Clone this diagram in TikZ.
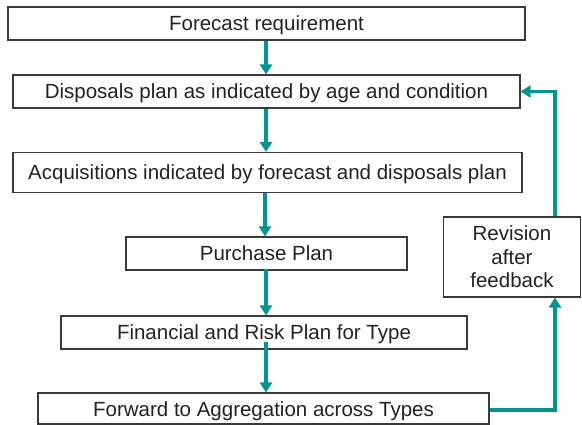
\documentclass[tikz,border=0pt]{standalone}
\usepackage{fontspec}
\setmainfont{Liberation Sans}
\usepackage{xcolor}
\usetikzlibrary{arrows.meta}
\definecolor{flowteal}{HTML}{00958F}
\definecolor{boxgrey}{HTML}{3A3A3A}
\definecolor{textgrey}{HTML}{222222}

\begin{document}
\begin{tikzpicture}[x=1pt,y=-1pt,
  planbox/.style={draw=boxgrey, line width=1.1pt, text=textgrey,
    inner sep=0pt, minimum height=33pt, text height=15pt, text depth=0pt,
    font=\fontsize{20.5}{23.5}\selectfont},
  flowarrow/.style={draw=flowteal, line width=3.3pt,
    -{Triangle[width=12pt,length=10pt]}}
]
  \useasboundingbox (0,0) rectangle (582,425);

  \node[planbox, minimum width=517pt] (forecast) at (266.5,23.5) {Forecast requirement};
  \node[planbox, minimum width=507pt] (disposals) at (266.5,91.5) {Disposals plan as indicated by age and condition};
  \node[planbox, minimum width=509pt, minimum height=40pt] (acquisitions) at (267.5,172.5) {Acquisitions indicated by forecast and disposals plan};
  \node[planbox, minimum width=281pt] (purchase) at (266.5,253.5) {Purchase Plan};
  \node[planbox, minimum width=406pt] (financial) at (264,332.5) {Financial and Risk Plan for Type};
  \node[planbox, minimum width=451pt, minimum height=31pt] (forward) at (263.5,408.5) {Forward to Aggregation across Types};
  \node[planbox, minimum width=137pt, minimum height=80pt, align=center,
    text height=, text depth=] (revision) at (512,257) {Revision\\after\\feedback};

  \draw[flowarrow] (forecast.south -| 266,0) -- (disposals.north -| 266,0);
  \draw[flowarrow] (disposals.south -| 266,0) -- (acquisitions.north -| 266,0);
  \draw[flowarrow] (acquisitions.south -| 265,0) -- (purchase.north -| 265,0);
  \draw[flowarrow] ([yshift=2pt]purchase.south -| 266,0) -- (financial.north -| 266,0);
  \draw[flowarrow] ([yshift=8pt]financial.south -| 266,0) -- (forward.north -| 266,0);
  \draw[flowarrow] ([yshift=-1.5pt]forward.east) -| ([xshift=43pt]revision.south);
  \draw[flowarrow] ([xshift=43pt]revision.north) |- (disposals.east);
\end{tikzpicture}
\end{document}
